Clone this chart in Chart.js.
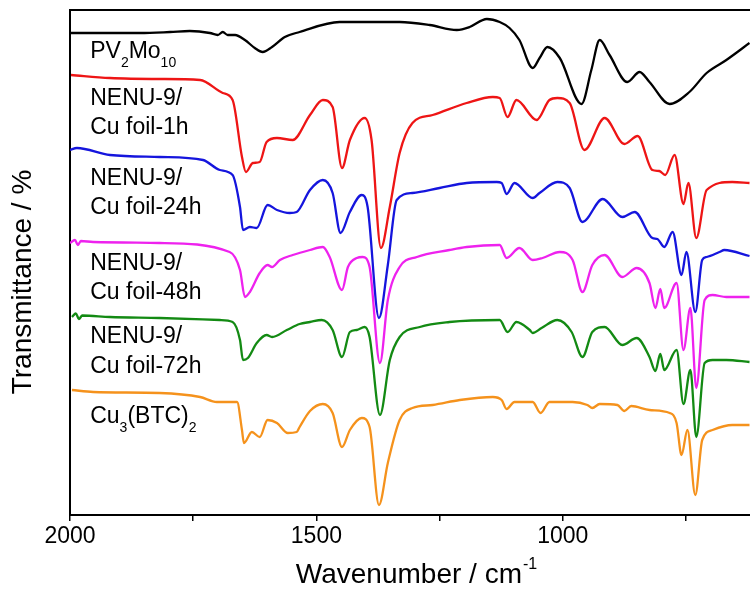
<html>
<head>
<meta charset="UTF-8" />
<title>FT-IR</title>
<script src="https://cdn.jsdelivr.net/npm/chart.js"></script>
<style>
  body { margin: 0; padding: 0; background: #ffffff; }
  #ir { display: block; }
</style>
<script>
// wavenumbers (cm-1) and stacked transmittance (a.u.)
var pvWn = [1998,1939,1858,1797,1757,1716,1700,1690,1680,1665,1645,1625,1609,1590,1564,1534,1453,1331,1270,1215,1189,1154,1128,1108,1088,1061,1047,1031,1006,962,942,925,905,869,844,824,783,743,708,668,621];
var pvT  = [96.4,96.4,96.4,96.6,96.8,96.4,96.0,96.6,96.0,96.0,95.0,93.4,92.6,93.6,95.6,96.6,98.6,98.6,98.0,97.0,97.6,99.2,98.6,97.4,95.0,89.4,91.4,93.6,91.4,82.2,89.0,95.0,92.0,86.6,88.6,86.6,82.2,84.6,88.4,91.0,94.4];

var h1Wn = [1998,1919,1818,1736,1690,1670,1651,1643,1629,1615,1601,1580,1548,1513,1487,1467,1448,1432,1402,1388,1369,1351,1331,1305,1264,1195,1142,1128,1112,1094,1053,1027,1011,986,956,915,875,848,818,804,792,773,755,745,729,708,656,621];
var h1T  = [88.0,87.4,87.2,87.0,84.4,83.0,71.6,68.6,70.4,70.6,74.6,75.4,75.0,80.0,83.0,81.6,69.4,75.0,79.4,75.0,53.4,61.6,72.4,78.4,80.0,82.4,83.6,83.4,79.6,83.0,79.0,83.0,83.4,82.4,73.0,79.4,74.2,75.8,69.0,68.8,68.0,72.0,62.2,66.4,55.4,65.0,66.6,66.4];

var h24Wn = [2000,1986,1919,1818,1730,1696,1670,1655,1649,1635,1621,1599,1580,1554,1540,1513,1487,1467,1451,1432,1408,1396,1373,1355,1337,1305,1250,1195,1134,1124,1114,1098,1061,1047,1011,986,960,919,879,854,818,808,794,777,759,749,731,717,708,682,672,621];
var h24T  = [73.0,73.4,72.0,71.6,71.0,69.0,68.0,61.6,57.0,57.6,57.4,62.0,61.0,60.4,60.6,65.0,67.0,64.4,56.4,60.6,64.0,61.6,39.4,50.0,63.0,64.4,65.4,66.4,66.6,66.4,64.2,66.4,63.4,64.4,66.6,65.4,58.6,63.2,59.6,60.6,55.4,55.2,53.6,56.6,48.0,52.6,40.6,51.0,51.6,52.6,53.0,51.8];

var h48Wn = [2000,1990,1984,1978,1953,1818,1676,1655,1645,1635,1615,1599,1590,1574,1548,1513,1487,1473,1448,1436,1418,1406,1392,1371,1355,1331,1296,1230,1195,1128,1114,1088,1061,1041,1006,980,960,940,915,879,850,824,812,802,794,769,755,741,729,712,696,668,621];
var h48T  = [54.4,55.0,54.0,54.8,54.6,54.4,52.6,49.0,43.6,44.6,48.4,50.0,49.6,51.0,52.0,53.0,53.6,51.6,45.0,49.6,51.4,51.6,49.6,30.4,43.0,49.6,51.6,53.0,53.6,54.0,51.4,53.4,51.0,51.4,52.6,51.0,44.6,50.0,52.0,47.6,49.4,46.4,41.4,45.2,41.4,46.4,33.0,41.4,25.4,43.0,44.0,43.6,43.6];

var h72Wn = [1996,1988,1982,1975,1919,1818,1696,1670,1655,1649,1639,1621,1601,1590,1560,1534,1513,1489,1467,1448,1432,1418,1402,1392,1371,1351,1331,1290,1230,1128,1112,1094,1067,1061,1043,1011,982,960,940,915,879,850,824,812,802,794,769,755,741,729,712,696,668,621];
var h72T  = [39.6,40.3,39.2,39.9,39.6,39.4,39.0,38.6,35.0,31.0,31.4,34.4,36.0,35.6,37.0,38.2,38.6,39.0,37.0,31.6,36.6,37.0,37.6,35.6,20.0,31.0,35.6,37.6,38.6,39.0,36.6,38.6,37.0,36.4,37.4,39.0,36.6,31.6,36.6,37.6,34.0,35.4,31.6,28.8,32.2,29.0,33.0,22.2,29.0,15.6,30.4,31.0,31.0,30.6];

var btcWn = [1996,1953,1818,1736,1702,1661,1651,1647,1631,1615,1599,1580,1558,1540,1534,1513,1487,1467,1448,1432,1408,1392,1373,1355,1331,1305,1264,1209,1142,1124,1114,1098,1061,1045,1027,980,950,940,925,889,875,861,824,783,769,759,747,731,717,696,656,621];
var btcT  = [25.0,24.6,24.4,23.6,22.6,22.6,17.0,14.4,16.6,15.6,19.0,18.4,16.4,16.6,17.6,20.8,22.2,20.4,13.6,17.0,19.4,17.6,2.0,10.4,19.0,21.4,22.0,23.0,23.6,23.0,21.2,22.6,22.6,20.4,22.6,22.6,22.0,21.4,22.2,22.0,20.8,21.8,21.0,20.4,18.4,12.0,17.0,4.0,15.0,17.0,18.0,18.0];

var xTicks = [2000, 1750, 1500, 1250, 1000, 750];
var xMin = 620, xMax = 2000;

// sample labels: anchor (wavenumber, T) and text pieces, {sub:..} is a subscript
var sampleLabels = [
    { wn: 1959, t: 91.4, parts: ["PV", {sub: "2"}, "Mo", {sub: "10"}] },
    { wn: 1959, t: 82.0, parts: ["NENU-9/"] },
    { wn: 1959, t: 76.2, parts: ["Cu foil-1h"] },
    { wn: 1959, t: 66.0, parts: ["NENU-9/"] },
    { wn: 1959, t: 60.2, parts: ["Cu foil-24h"] },
    { wn: 1959, t: 49.0, parts: ["NENU-9/"] },
    { wn: 1959, t: 43.2, parts: ["Cu foil-48h"] },
    { wn: 1959, t: 34.4, parts: ["NENU-9/"] },
    { wn: 1959, t: 28.4, parts: ["Cu foil-72h"] },
    { wn: 1959, t: 18.4, parts: ["Cu", {sub: "3"}, "(BTC)", {sub: "2"}] }
];

var FONT = '"Liberation Sans", Arial, sans-serif';

function pts(wn, t) {
    return wn.map(function (w, i) { return { x: w, y: t[i] }; });
}

function series(label, wn, t, color) {
    return {
        label: label,
        data: pts(wn, t),
        borderColor: color,
        borderWidth: 2.3,
        pointRadius: 0,
        fill: false,
        cubicInterpolationMode: "monotone",
    };
}

var decoPlugin = {
    id: "deco",
    afterDraw: function (chart) {
        var ctx = chart.ctx;
        var xs = chart.scales.x, ys = chart.scales.y;
        var area = chart.chartArea;
        ctx.save();
        ctx.fillStyle = "#000";
        ctx.strokeStyle = "#000";
        // top frame line
        ctx.lineWidth = 2;
        ctx.beginPath();
        ctx.moveTo(area.left, area.top);
        ctx.lineTo(area.right, area.top);
        ctx.stroke();

        ctx.textBaseline = "alphabetic";
        ctx.textAlign = "left";
        sampleLabels.forEach(function (l) {
            var x = xs.getPixelForValue(l.wn);
            var y = ys.getPixelForValue(l.t);
            l.parts.forEach(function (p) {
                var sub = typeof p !== "string";
                var s = sub ? p.sub : p;
                ctx.font = (sub ? "14px " : "23px ") + FONT;
                ctx.fillText(s, x, y + (sub ? 9 : 0));
                x += ctx.measureText(s).width;
            });
        });

        // x title with superscript
        var main = "Wavenumber / cm", sup = "-1";
        ctx.font = "28px " + FONT;
        var w1 = ctx.measureText(main).width;
        ctx.font = "16px " + FONT;
        var w2 = ctx.measureText(sup).width;
        var cx = (area.left + area.right) / 2 + 6;
        var x0 = cx - (w1 + w2) / 2;
        ctx.font = "28px " + FONT;
        ctx.fillText(main, x0, 583);
        ctx.font = "16px " + FONT;
        ctx.fillText(sup, x0 + w1 + 1, 569);

        // y title
        ctx.translate(23, 282);
        ctx.rotate(-Math.PI / 2);
        ctx.textAlign = "center";
        ctx.textBaseline = "middle";
        ctx.font = "28px " + FONT;
        ctx.fillText("Transmittance / %", 0, 0);
        ctx.restore();
    }
};

function drawChart() {
    var cfg = {
        type: "line",
        data: {
            datasets: [
                series("PV2Mo10", pvWn, pvT, "#000000"),
                series("NENU-9/Cu foil-1h", h1Wn, h1T, "#ee1515"),
                series("NENU-9/Cu foil-24h", h24Wn, h24T, "#1515dd"),
                series("NENU-9/Cu foil-48h", h48Wn, h48T, "#ee22ee"),
                series("NENU-9/Cu foil-72h", h72Wn, h72T, "#138a13"),
                series("Cu3(BTC)2", btcWn, btcT, "#f5921c"),
            ],
        },
        options: {
            responsive: false,
            animation: false,
            layout: { padding: { top: 10, right: 0, left: 0, bottom: 0 } },
            plugins: { legend: { display: false }, tooltip: { enabled: false } },
            scales: {
                x: {
                    type: "linear",
                    reverse: true,
                    min: xMin,
                    max: xMax,
                    afterBuildTicks: function (scale) {
                        scale.ticks = xTicks.map(function (v) { return { value: v }; });
                    },
                    afterFit: function (scale) { scale.height = 77; },
                    ticks: {
                        color: "#000",
                        font: { family: FONT, size: 23 },
                        padding: 2,
                        maxRotation: 0,
                        autoSkip: false,
                        callback: function (v) { return v % 500 === 0 ? String(v) : ""; },
                    },
                    grid: { drawOnChartArea: false, drawTicks: true, tickLength: 6, color: "#000", lineWidth: 1.5 },
                    border: { display: true, color: "#000", width: 2 },
                },
                y: {
                    min: 0,
                    max: 101,
                    afterFit: function (scale) { scale.width = 70; },
                    ticks: { display: false },
                    grid: { display: false },
                    border: { display: true, color: "#000", width: 2 },
                },
            },
        },
        plugins: [decoPlugin],
    };
    new Chart(document.getElementById("ir"), cfg);
}
</script>
</head>
<body>
<canvas id="ir" width="750" height="592"></canvas>
<script>
    drawChart();
</script>
</body>
</html>
